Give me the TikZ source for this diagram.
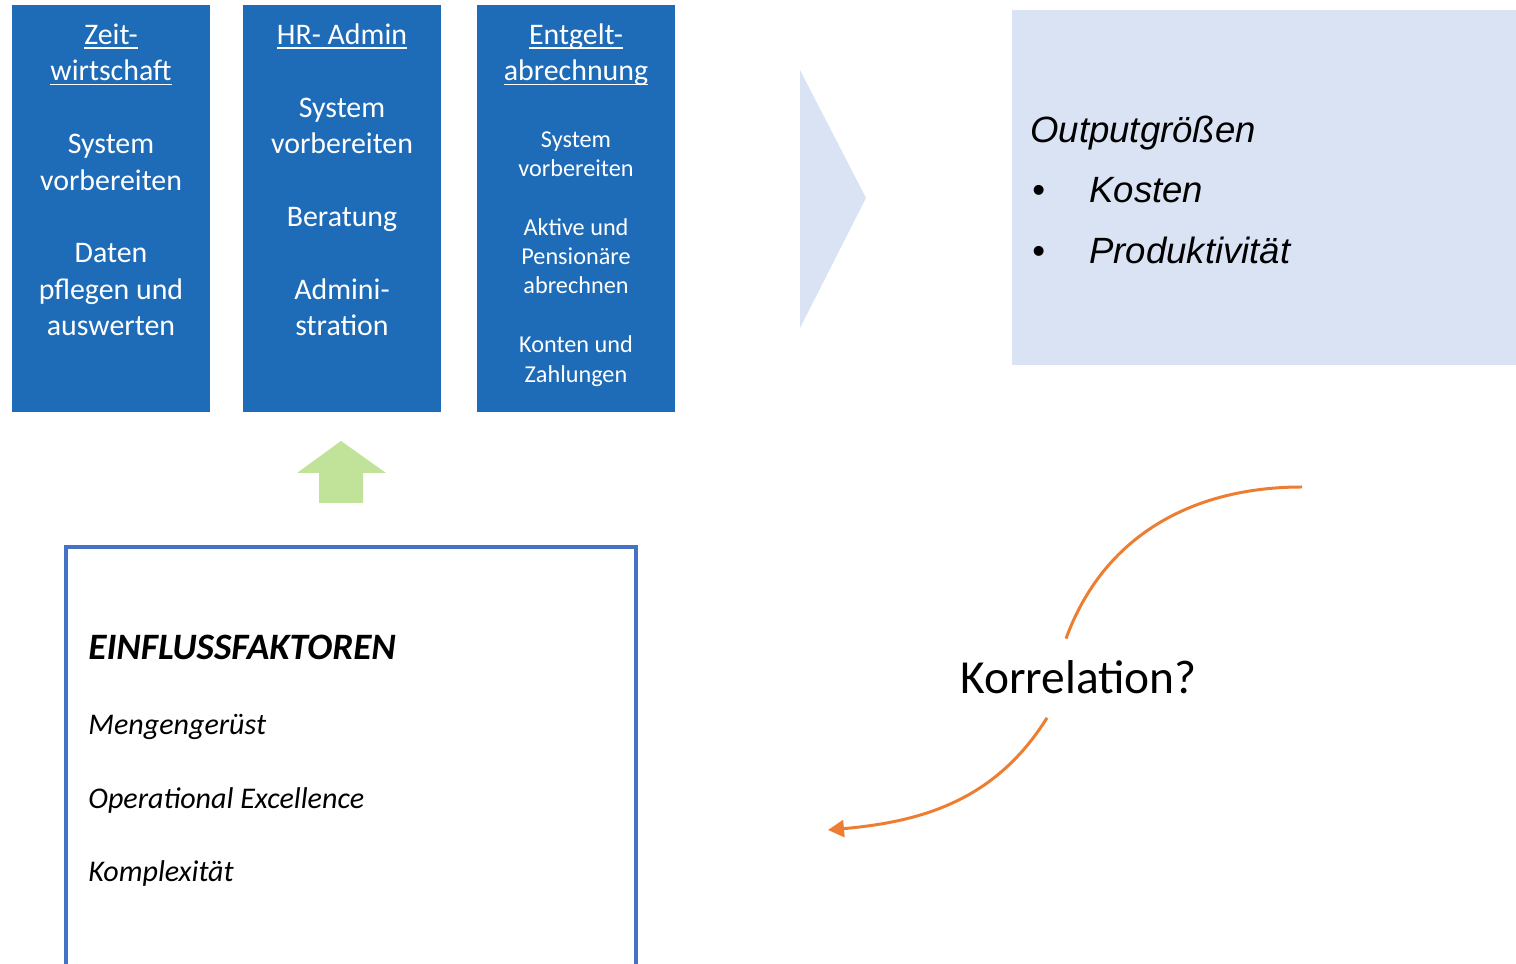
\documentclass[tikz,border=0pt]{standalone}
\usepackage{fontspec}
\setmainfont{Carlito}
\newfontfamily\arialfont{Liberation Sans}
\usetikzlibrary{arrows.meta,positioning,calc}
\usepackage{xcolor}
\definecolor{boxblau}{RGB}{30,107,184}
\definecolor{hellblau}{RGB}{218,227,243}
\definecolor{rahmenblau}{RGB}{68,114,196}
\definecolor{pfeilgruen}{RGB}{192,226,153}
\definecolor{korrorange}{RGB}{237,125,49}
\newcommand{\unterstr}[1]{\setbox0\hbox{#1}\rlap{\rule[-2.6pt]{\wd0}{1pt}}\box0}

\begin{document}
\begin{tikzpicture}[
    fach/.style={fill=boxblau,minimum width=3.96cm,minimum height=8.14cm,inner sep=0pt},
    fachtext/.style={anchor=north,inner sep=0pt,align=center,text=white,font=\fontsize{17}{20.7}\selectfont},
    kleintext/.style={anchor=north,inner sep=0pt,align=center,text=white,font=\fontsize{13.8}{16.7}\selectfont},
    ausgabe/.style={anchor=base west,inner sep=0pt,font=\arialfont\itshape\fontsize{20.8}{24}\selectfont},
    faktor/.style={anchor=base west,inner sep=0pt,font=\itshape\fontsize{17.1}{20.7}\selectfont},
    korr/.style={draw=korrorange,line width=1.7pt}
  ]
    \useasboundingbox (0,0) rectangle (30.32,19.26);
    \clip (0,0) rectangle (30.32,19.26);

    % Prozess-Saeulen
    \node[fach] (zeit) at (2.22,15.09) {};
    \node[fach] (hradmin) at (6.84,15.09) {};
    \node[fach] (entgelt) at (11.52,15.09) {};
    \node[fachtext] (zeittext) at ([yshift=-0.28cm]zeit.north)
      {\strut\unterstr{Zeit-}\\\unterstr{wirtschaft}\\[0.73cm]System\\vorbereiten\\[0.73cm]Daten\\pflegen und\\auswerten};
    \node[fachtext] (hrtext) at ([yshift=-0.28cm]hradmin.north)
      {\strut\unterstr{HR- Admin}\\[0.73cm]System\\vorbereiten\\[0.73cm]Beratung\\[0.73cm]Admini-\\stration};
    \node[fachtext] (entgelttitel) at ([yshift=-0.28cm]entgelt.north)
      {\strut\unterstr{Entgelt-}\\\unterstr{abrechnung}};
    \node[kleintext] (entgelttext) at ([yshift=-2.43cm]entgelt.north)
      {\strut System\\vorbereiten\\[0.59cm]Aktive und\\Pensionäre\\abrechnen\\[0.59cm]Konten und\\Zahlungen};

    % Chevron
    \fill[hellblau] (16.0,17.86) -- (17.32,15.30) -- (16.0,12.70) -- cycle;

    % Outputgroessen
    \node[fill=hellblau,minimum width=10.08cm,minimum height=7.1cm,inner sep=0pt] (output) at (25.28,15.51) {};
    \node[ausgabe] (outtitel) at (20.6,16.41) {Outputgrößen};
    \node[ausgabe,font=\arialfont\fontsize{20.8}{24}\selectfont] (punkt1) at (20.64,15.21) {•};
    \node[ausgabe] (kosten) at (21.78,15.21) {Kosten};
    \node[ausgabe,font=\arialfont\fontsize{20.8}{24}\selectfont] (punkt2) at (20.64,13.99) {•};
    \node[ausgabe] (produkt) at (21.78,13.99) {Produktivität};

    % Gruener Pfeil
    \fill[pfeilgruen] (6.82,10.44) -- (7.72,9.80) -- (7.26,9.80) -- (7.26,9.20) -- (6.38,9.20) -- (6.38,9.80) -- (5.94,9.80) -- cycle;

    % Einflussfaktoren
    \node[draw=rahmenblau,line width=2.3pt,minimum width=11.4cm,minimum height=9.06cm,inner sep=0pt] (einfluss) at (7.02,3.79) {};
    \node[faktor,font=\bfseries\itshape\fontsize{21.2}{24}\selectfont] (titel) at (1.76,6.06) {EINFLUSSFAKTOREN};
    \node[faktor] (menge) at (1.76,4.56) {Mengengerüst};
    \node[faktor] (opex) at (1.76,3.08) {Operational Excellence};
    \node[faktor] (komplex) at (1.76,1.62) {Komplexität};

    % Korrelation
    \node[font=\fontsize{27}{32}\selectfont,text height=0.63cm,text depth=0cm,inner sep=0.47cm,anchor=base] (corr) at (21.57,5.38) {Korrelation?};
    \coordinate (korrstart) at (26.04,9.52);
    \coordinate (korrende) at (16.56,2.66);
    \draw[korr] (korrstart) to[out=180,in=70] ([xshift=-0.25cm]corr.north);
    \draw[korr,-{Triangle[length=0.32cm,width=0.34cm]}] ([xshift=-0.63cm]corr.south) to[out=238,in=5] (korrende);
  \end{tikzpicture}
\end{document}
